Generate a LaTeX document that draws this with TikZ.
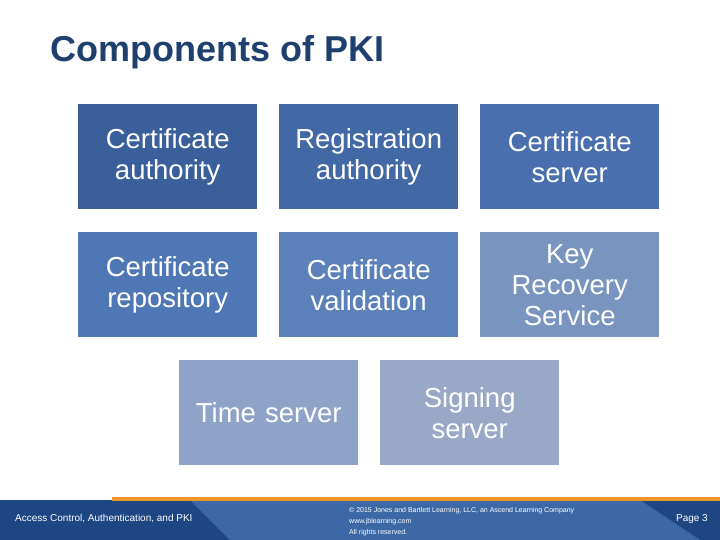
\documentclass[tikz,border=0pt]{standalone}
\usepackage{fontspec}
\setmainfont{Liberation Sans}
\definecolor{ttl}{RGB}{31,63,110}
\definecolor{c1}{RGB}{58,95,155}
\definecolor{c2}{RGB}{66,104,166}
\definecolor{c3}{RGB}{74,111,175}
\definecolor{c4}{RGB}{80,119,181}
\definecolor{c5}{RGB}{92,128,186}
\definecolor{c6}{RGB}{122,148,192}
\definecolor{c7}{RGB}{143,163,201}
\definecolor{c8}{RGB}{154,168,200}
\definecolor{fdark}{RGB}{30,70,130}
\definecolor{flight}{RGB}{60,105,165}
\definecolor{forange}{RGB}{240,150,40}
\begin{document}
\begin{tikzpicture}[x=1pt,y=-1pt,
  box/.style={minimum width=179pt,minimum height=105pt,anchor=north west,inner sep=0pt,text=white,align=center,font=\fontsize{27.5}{31}\selectfont,text width=175pt}]
\useasboundingbox (0,0) rectangle (720,540);
\fill[white] (0,0) rectangle (720,540);
\node[anchor=west,font=\bfseries\fontsize{36}{40}\selectfont,text=ttl,inner sep=0pt] (title) at (50,52) {Components of PKI};
\node[box,fill=c1] (b1) at (78,104) {Certificate\\authority};
\node[box,fill=c2] (b2) at (279,104) {Registration\\authority};
\node[box,fill=c3] (b3) at (480,104) {Certificate\\server};
\node[box,fill=c4] (b4) at (78,232) {Certificate\\repository};
\node[box,fill=c5] (b5) at (279,232) {Certificate\\validation};
\node[box,fill=c6] (b6) at (480,232) {Key\\Recovery\\Service};
\node[box,fill=c7] (b7) at (179,360) {Time server};
\node[box,fill=c8] (b8) at (380,360) {Signing\\server};
% footer
\fill[fdark] (0,500) rectangle (720,540);
\fill[flight] (190,500) -- (640,500) -- (700,540) -- (230,540) -- cycle;
\fill[forange] (112,497) rectangle (720,501);
\node[anchor=west,text=white,font=\fontsize{10}{11}\selectfont,inner sep=0pt] (f1) at (15,519) {Access Control, Authentication, and PKI};
\node[anchor=north west,text=white,font=\fontsize{7}{11}\selectfont,align=left,inner sep=0pt] (f2) at (349,507) {© 2015 Jones and Bartlett Learning, LLC, an Ascend Learning Company\\www.jblearning.com\\All rights reserved.};
\node[anchor=east,text=white,font=\fontsize{10}{11}\selectfont,inner sep=0pt] (f3) at (708,519) {Page 3};
\end{tikzpicture}
\end{document}
